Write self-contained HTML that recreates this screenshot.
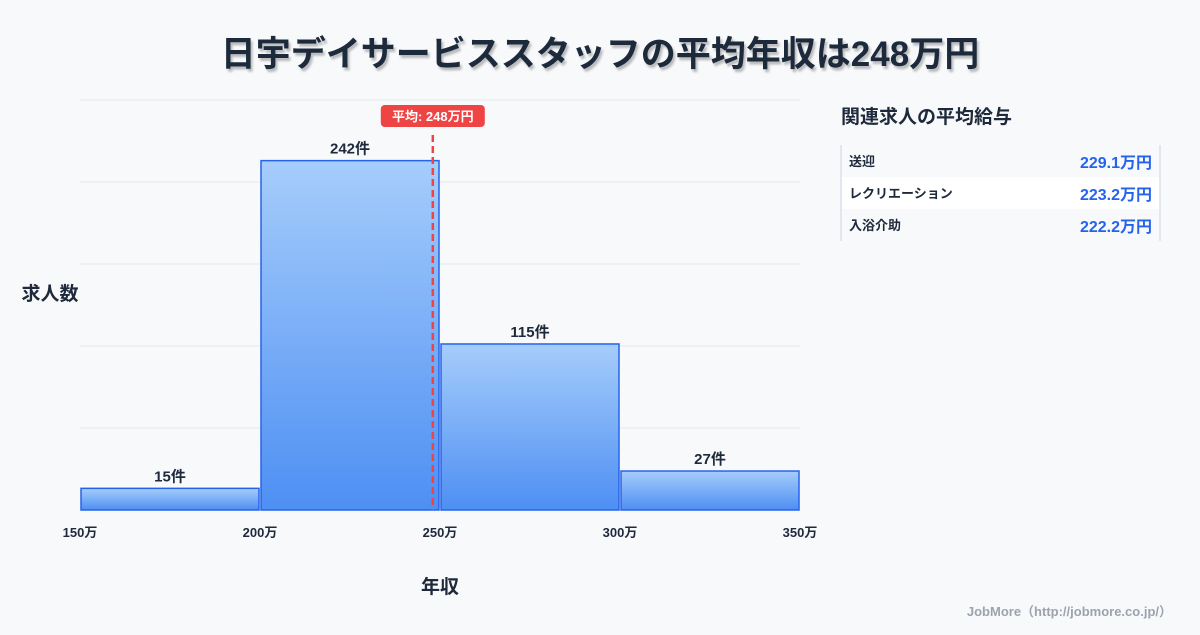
<!DOCTYPE html>
<html><head><meta charset="utf-8">
<style>
body{margin:0;background:#f8f9fb;}
svg text{font-family:"Liberation Sans","Noto Sans CJK JP",sans-serif;}
</style></head>
<body>
<svg width="1200" height="630" viewBox="0 0 1200 630" xmlns="http://www.w3.org/2000/svg">
<defs>
<linearGradient id="g" x1="0" y1="0" x2="0" y2="1">
<stop offset="0" stop-color="#a6cdfb"/><stop offset="1" stop-color="#4d8ff3"/>
</linearGradient>
<filter id="sh"><feDropShadow dx="2" dy="3" stdDeviation="1" flood-color="#000" flood-opacity="0.25"/></filter>
</defs>
<rect width="1200" height="630" fill="#f8f9fb"/>
<text x="600" y="66" text-anchor="middle" font-size="35" font-weight="bold" fill="#1e293b" filter="url(#sh)">日宇デイサービススタッフの平均年収は248万円</text>
<g id="grid"></g>
<g id="bars"></g>
<g id="xt"></g>
<g id="mean"></g>
<text x="50" y="300" text-anchor="middle" font-size="19" font-weight="bold" fill="#1e293b">求人数</text>
<text x="440" y="593" text-anchor="middle" font-size="19" font-weight="bold" fill="#1e293b">年収</text>
<text x="841" y="123" font-size="19" font-weight="bold" fill="#1e293b">関連求人の平均給与</text>
<g id="tbl"></g>
<text x="1172" y="616" text-anchor="end" font-size="13" font-weight="bold" fill="#9ca3af">JobMore（http://jobmore.co.jp/）</text>
</svg>
<script>
const binStarts=[150,200,250,300];
const binEnds=[200,250,300,350];
const counts=[15,242,115,27];
const xTicks=[150,200,250,300,350];
const meanVal=248;
const relNames=["送迎","レクリエーション","入浴介助"];
const relVals=["229.1万円","223.2万円","222.2万円"];
const NS="http://www.w3.org/2000/svg";
const X0=80,X1=800,Y0=510,Y1=100,xmin=150,xmax=350,ymax=284;
const xs=v=>X0+(v-xmin)/(xmax-xmin)*(X1-X0);
const ys=v=>Y0-v/ymax*(Y0-Y1);
function mk(t,a,p,txt){const e=document.createElementNS(NS,t);for(const k in a)e.setAttribute(k,a[k]);if(txt!==undefined)e.textContent=txt;p.appendChild(e);return e;}
const grid=document.getElementById('grid');
for(let i=0;i<=5;i++){const y=Y0-i*(Y0-Y1)/5;const l=mk('line',{x1:X0,x2:X1,y1:y,y2:y,stroke:'#e5e7eb','stroke-width':1},grid);

}
const bars=document.getElementById('bars');
counts.forEach((c,i)=>{const xa=xs(binStarts[i])+1,xb=xs(binEnds[i])-1,y=ys(c);
const r=mk('rect',{x:xa,y:y,width:xb-xa,height:Y0-y,fill:'url(#g)',stroke:'#2563eb','stroke-width':1.5},bars);


const t=mk('text',{x:(xa+xb)/2,y:y-7,'text-anchor':'middle','font-size':15,'font-weight':'bold',fill:'#1e293b'},bars,c+'件');

});
const xt=document.getElementById('xt');
xTicks.forEach(v=>{const t=mk('text',{x:xs(v),y:537,'text-anchor':'middle','font-size':13,'font-weight':'bold',fill:'#1e293b'},xt,v+'万');

});
const mg=document.getElementById('mean');const mx=xs(meanVal);
mk('line',{x1:mx,x2:mx,y1:135,y2:Y0,stroke:'#ef4444','stroke-width':2.5,'stroke-dasharray':'7,4'},mg);
mk('rect',{x:mx-52,y:105,width:104,height:22,rx:4,fill:'#ef4444'},mg);
mk('text',{x:mx,y:121,'text-anchor':'middle','font-size':13,'font-weight':'bold',fill:'#fff'},mg,'平均: '+meanVal+'万円');
const tb=document.getElementById('tbl');
relNames.forEach((n,i)=>{const y=145+i*32;
const r=mk('rect',{x:842,y:y,width:318,height:32,fill:i%2?'#ffffff':'#f8f9fb'},tb);


mk('text',{x:849,y:y+21,'font-size':13,'font-weight':'bold',fill:'#1e293b'},tb,n);
mk('text',{x:1152,y:y+23,'text-anchor':'end','font-size':16,'font-weight':'bold',fill:'#2563eb'},tb,relVals[i]);});
mk('line',{x1:841,x2:841,y1:145,y2:241,stroke:'#cbd5e1'},tb);
mk('line',{x1:1160,x2:1160,y1:145,y2:241,stroke:'#cbd5e1'},tb);
</script>
</body></html>
